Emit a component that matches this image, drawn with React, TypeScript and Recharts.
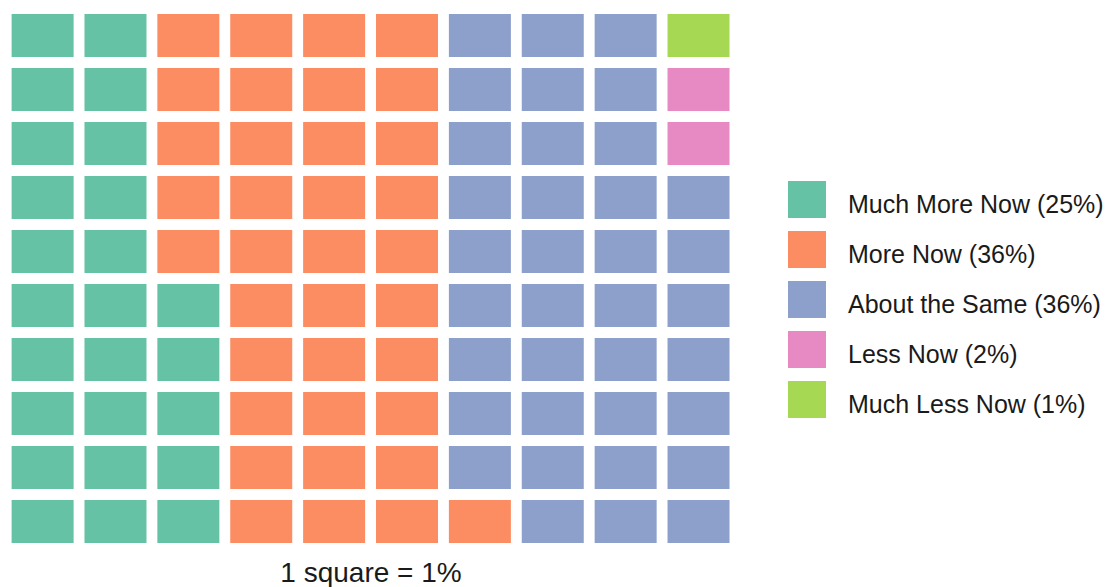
import { BarChart, Bar, Cell, XAxis, YAxis, Legend } from "recharts";

// categories and their share (1 square = 1%)
const categories = ["Much More Now", "More Now", "About the Same", "Less Now", "Much Less Now"];
const percents = [25, 36, 36, 2, 1];
const colors = ["#66c2a5", "#fc8d62", "#8da0cb", "#e78ac3", "#a6d854"];

// grid: 10 columns, 10 squares each, filled bottom-up, left to right
const columns = [1, 2, 3, 4, 5, 6, 7, 8, 9, 10];
const rows = [0, 1, 2, 3, 4, 5, 6, 7, 8, 9];

const FONT = "'Liberation Sans', Arial, sans-serif";

const cellColor = (k: number) => {
  let acc = 0;
  for (let i = 0; i < percents.length; i++) {
    acc += percents[i];
    if (k < acc) return colors[i];
  }
  return "#ffffff";
};

const data = columns.map(c => {
  const d: Record<string, number> = { col: c };
  rows.forEach(r => (d[`r${r}`] = 1));
  return d;
});

// shrink each stacked segment so the squares get a white gap
const WaffleCell = (props: any) => {
  const { x, y, width, height, fill } = props;
  const gap = 5.5;
  return <rect x={x} y={y + gap} width={width} height={Math.max(height - gap * 2, 0)} fill={fill} />;
};

const renderLegend = () => (
  <svg width={330} height={240}>
    {categories.map((name, i) => (
      <g key={name}>
        <rect x={0} y={i * 50} width={38} height={37} fill={colors[i]} />
        <text x={60} y={i * 50 + 32} fontSize={25} fontFamily={FONT} fill="#1a1a1a">
          {`${name} (${percents[i]}%)`}
        </text>
      </g>
    ))}
  </svg>
);

export default function App() {
  return (
    <div style={{ position: "absolute", left: 0, top: 0, width: 1118, height: 587, background: "#fff" }}>
      <BarChart
        width={1118}
        height={587}
        data={data}
        margin={{ top: 8.5, left: 6.6, right: 382.6, bottom: 0 }}
        barSize={62}
      >
        <XAxis
          dataKey="col"
          tick={false}
          axisLine={false}
          tickLine={false}
          height={38.5}
          label={{
            value: "1 square = 1%",
            position: "center",
            dy: 4,
            fontSize: 28,
            fontFamily: FONT,
            fill: "#1a1a1a",
          }}
        />
        <YAxis type="number" domain={[0, 10]} hide />
        <Legend
          layout="horizontal"
          verticalAlign="middle"
          align="center"
          content={renderLegend}
          wrapperStyle={{ left: 788, top: 181, width: 330, height: 240 }}
        />
        {rows.map(r => (
          <Bar key={r} dataKey={`r${r}`} stackId="w" isAnimationActive={false} shape={WaffleCell}>
            {data.map((_, c) => (
              <Cell key={c} fill={cellColor(c * 10 + r)} />
            ))}
          </Bar>
        ))}
      </BarChart>
    </div>
  );
}
